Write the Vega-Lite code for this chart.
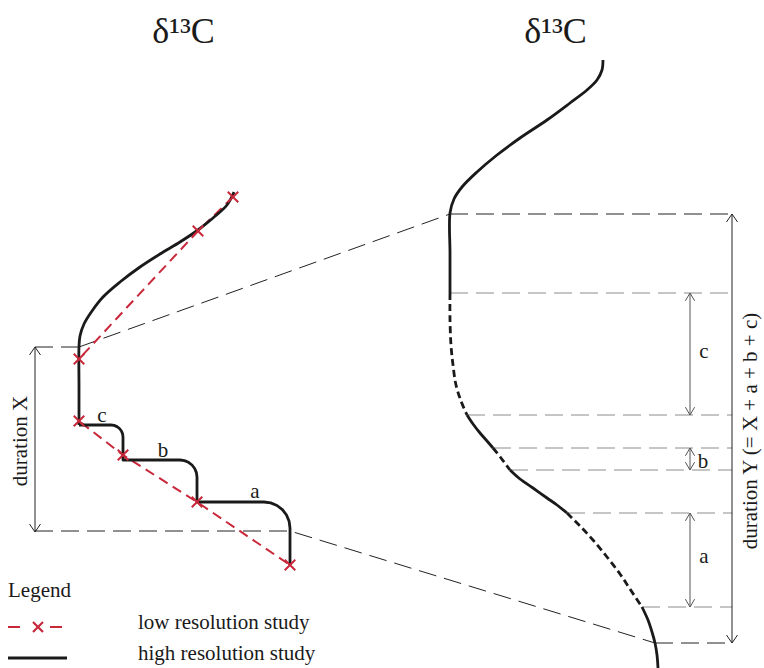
{
  "$schema": "https://vega.github.io/schema/vega-lite/v6.json",
  "width": 764,
  "height": 668,
  "padding": 0,
  "autosize": {"type": "none"},
  "background": "white",
  "config": {"view": {"stroke": null}},
  "datasets": {
    "hicurve": [
      {"id": "L", "x": 234, "y": 192}, {"id": "L", "x": 227, "y": 205}, {"id": "L", "x": 213, "y": 218}, {"id": "L", "x": 198, "y": 230},
      {"id": "L", "x": 180, "y": 242}, {"id": "L", "x": 160, "y": 254}, {"id": "L", "x": 140, "y": 267}, {"id": "L", "x": 120, "y": 282},
      {"id": "L", "x": 103, "y": 297}, {"id": "L", "x": 92, "y": 311}, {"id": "L", "x": 84, "y": 324}, {"id": "L", "x": 80, "y": 336},
      {"id": "L", "x": 79, "y": 347}, {"id": "L", "x": 79, "y": 386}, {"id": "L", "x": 79, "y": 425},
      {"id": "R1", "x": 603, "y": 60}, {"id": "R1", "x": 602, "y": 70}, {"id": "R1", "x": 597, "y": 80}, {"id": "R1", "x": 587, "y": 90},
      {"id": "R1", "x": 570, "y": 103}, {"id": "R1", "x": 547, "y": 120}, {"id": "R1", "x": 520, "y": 138}, {"id": "R1", "x": 497, "y": 155},
      {"id": "R1", "x": 477, "y": 172}, {"id": "R1", "x": 462, "y": 187}, {"id": "R1", "x": 454, "y": 199}, {"id": "R1", "x": 450, "y": 213},
      {"id": "R1", "x": 450, "y": 253}, {"id": "R1", "x": 450, "y": 293},
      {"id": "R3", "x": 467, "y": 415}, {"id": "R3", "x": 473, "y": 424}, {"id": "R3", "x": 480, "y": 433}, {"id": "R3", "x": 487, "y": 441}, {"id": "R3", "x": 493, "y": 448},
      {"id": "R5", "x": 510, "y": 470}, {"id": "R5", "x": 520, "y": 479}, {"id": "R5", "x": 533, "y": 488}, {"id": "R5", "x": 547, "y": 498}, {"id": "R5", "x": 557, "y": 505}, {"id": "R5", "x": 567, "y": 513},
      {"id": "R7", "x": 642, "y": 607}, {"id": "R7", "x": 648, "y": 620}, {"id": "R7", "x": 652, "y": 632}, {"id": "R7", "x": 655, "y": 643}, {"id": "R7", "x": 657, "y": 655}, {"id": "R7", "x": 658, "y": 668}
    ],
    "histep": [
      {"id": "S", "x": 79, "y": 425}, {"id": "S", "x": 111, "y": 425}, {"id": "S", "x": 114.1, "y": 425.4}, {"id": "S", "x": 117, "y": 426.6},
      {"id": "S", "x": 119.5, "y": 428.5}, {"id": "S", "x": 121.4, "y": 431}, {"id": "S", "x": 122.6, "y": 433.9}, {"id": "S", "x": 123, "y": 437},
      {"id": "S", "x": 123, "y": 460}, {"id": "S", "x": 180, "y": 460}, {"id": "S", "x": 184.4, "y": 460.6}, {"id": "S", "x": 188.5, "y": 462.3},
      {"id": "S", "x": 192, "y": 465}, {"id": "S", "x": 194.7, "y": 468.5}, {"id": "S", "x": 196.4, "y": 472.6}, {"id": "S", "x": 197, "y": 477},
      {"id": "S", "x": 197, "y": 502}, {"id": "S", "x": 264, "y": 502}, {"id": "S", "x": 270.7, "y": 502.9}, {"id": "S", "x": 277, "y": 505.5},
      {"id": "S", "x": 282.4, "y": 509.6}, {"id": "S", "x": 286.5, "y": 515}, {"id": "S", "x": 289.1, "y": 521.3}, {"id": "S", "x": 290, "y": 528},
      {"id": "S", "x": 290, "y": 565},
      {"id": "leg", "x": 8, "y": 658}, {"id": "leg", "x": 67, "y": 658}
    ],
    "hidash": [
      {"id": "R2", "x": 450, "y": 293}, {"id": "R2", "x": 450, "y": 320}, {"id": "R2", "x": 451, "y": 345}, {"id": "R2", "x": 453, "y": 365},
      {"id": "R2", "x": 456, "y": 385}, {"id": "R2", "x": 461, "y": 401}, {"id": "R2", "x": 467, "y": 415},
      {"id": "R4", "x": 493, "y": 448}, {"id": "R4", "x": 501, "y": 458}, {"id": "R4", "x": 510, "y": 470},
      {"id": "R6", "x": 567, "y": 513}, {"id": "R6", "x": 580, "y": 526}, {"id": "R6", "x": 593, "y": 540}, {"id": "R6", "x": 607, "y": 557},
      {"id": "R6", "x": 620, "y": 574}, {"id": "R6", "x": 630, "y": 589}, {"id": "R6", "x": 642, "y": 607}
    ],
    "low": [
      {"x": 233, "y": 197}, {"x": 198, "y": 231}, {"x": 79, "y": 359}, {"x": 79, "y": 421},
      {"x": 123, "y": 455}, {"x": 197, "y": 502}, {"x": 290, "y": 565}
    ],
    "legred": [
      {"id": "d1", "x": 8, "y": 627}, {"id": "d1", "x": 20, "y": 627},
      {"id": "d2", "x": 50, "y": 627}, {"id": "d2", "x": 62, "y": 627}
    ],
    "legcross": [{"x": 38, "y": 627}],
    "guide": [
      {"id": "G1", "x": 79, "y": 347}, {"id": "G1", "x": 450, "y": 214},
      {"id": "G2", "x": 35, "y": 347}, {"id": "G2", "x": 79, "y": 347},
      {"id": "G3", "x": 35, "y": 531}, {"id": "G3", "x": 290, "y": 531}, {"id": "G3", "x": 655, "y": 643},
      {"id": "G4", "x": 450, "y": 214}, {"id": "G4", "x": 732, "y": 214},
      {"id": "G5", "x": 655, "y": 643}, {"id": "G5", "x": 732, "y": 643}
    ],
    "gray": [
      {"id": "g1", "x": 450, "y": 293}, {"id": "g1", "x": 732, "y": 293},
      {"id": "g2", "x": 467, "y": 415}, {"id": "g2", "x": 732, "y": 415},
      {"id": "g3", "x": 493, "y": 448}, {"id": "g3", "x": 732, "y": 448},
      {"id": "g4", "x": 510, "y": 470}, {"id": "g4", "x": 732, "y": 470},
      {"id": "g5", "x": 567, "y": 513}, {"id": "g5", "x": 732, "y": 513},
      {"id": "g6", "x": 642, "y": 607}, {"id": "g6", "x": 732, "y": 607}
    ],
    "arrmain": [
      {"id": "X", "end": "top", "x": 35, "y": 347}, {"id": "X", "end": "bottom", "x": 35, "y": 532},
      {"id": "Y", "end": "top", "x": 732, "y": 214}, {"id": "Y", "end": "bottom", "x": 732, "y": 643}
    ],
    "arrsub": [
      {"id": "c", "end": "top", "x": 690, "y": 293}, {"id": "c", "end": "bottom", "x": 690, "y": 415},
      {"id": "b", "end": "top", "x": 690, "y": 448}, {"id": "b", "end": "bottom", "x": 690, "y": 470},
      {"id": "a", "end": "top", "x": 690, "y": 513}, {"id": "a", "end": "bottom", "x": 690, "y": 607}
    ],
    "titles": [
      {"x": 183.5, "y": 43, "t": "δ¹³C"},
      {"x": 555.5, "y": 43, "t": "δ¹³C"}
    ],
    "labels": [
      {"x": 102, "y": 422, "t": "c"}, {"x": 163, "y": 457, "t": "b"}, {"x": 255, "y": 498, "t": "a"},
      {"x": 704, "y": 358, "t": "c"}, {"x": 703, "y": 468, "t": "b"}, {"x": 704, "y": 563, "t": "a"}
    ],
    "legtext": [
      {"x": 8, "y": 597, "t": "Legend"},
      {"x": 138, "y": 629, "t": "low resolution study"},
      {"x": 138, "y": 660, "t": "high resolution study"}
    ],
    "vtext": [
      {"x": 27, "y": 441, "t": "duration X"},
      {"x": 757, "y": 431, "t": "duration Y (= X + a + b + c)"}
    ]
  },
  "encoding": {
    "x": {"field": "x", "type": "quantitative", "scale": {"domain": [0, 764], "nice": false, "zero": false}, "axis": null},
    "y": {"field": "y", "type": "quantitative", "scale": {"domain": [0, 668], "nice": false, "zero": false, "reverse": true}, "axis": null}
  },
  "layer": [
    {
      "data": {"name": "gray"},
      "mark": {"type": "line", "color": "#8c8c8c", "strokeWidth": 1, "strokeDash": [18, 8]},
      "encoding": {"detail": {"field": "id"}, "order": {"value": null}}
    },
    {
      "data": {"name": "guide"},
      "mark": {"type": "line", "color": "#222222", "strokeWidth": 1, "strokeDash": [18, 8]},
      "encoding": {"detail": {"field": "id"}, "order": {"value": null}}
    },
    {
      "data": {"name": "arrmain"},
      "mark": {"type": "line", "color": "#222222", "strokeWidth": 1},
      "encoding": {"detail": {"field": "id"}, "order": {"value": null}}
    },
    {
      "data": {"name": "arrmain"},
      "transform": [{"filter": "datum.end == 'top'"}],
      "mark": {"type": "point", "shape": "M-1,1.45L0,0L1,1.45", "filled": false, "size": 121, "strokeWidth": 1, "color": "#222222", "opacity": 1}
    },
    {
      "data": {"name": "arrmain"},
      "transform": [{"filter": "datum.end == 'bottom'"}],
      "mark": {"type": "point", "shape": "M-1,-1.45L0,0L1,-1.45", "filled": false, "size": 121, "strokeWidth": 1, "color": "#222222", "opacity": 1}
    },
    {
      "data": {"name": "arrsub"},
      "mark": {"type": "line", "color": "#555555", "strokeWidth": 1},
      "encoding": {"detail": {"field": "id"}, "order": {"value": null}}
    },
    {
      "data": {"name": "arrsub"},
      "transform": [{"filter": "datum.end == 'top'"}],
      "mark": {"type": "point", "shape": "M-1,1.7L0,0L1,1.7", "filled": false, "size": 85, "strokeWidth": 1, "color": "#555555", "opacity": 1}
    },
    {
      "data": {"name": "arrsub"},
      "transform": [{"filter": "datum.end == 'bottom'"}],
      "mark": {"type": "point", "shape": "M-1,-1.7L0,0L1,-1.7", "filled": false, "size": 85, "strokeWidth": 1, "color": "#555555", "opacity": 1}
    },
    {
      "data": {"name": "low"},
      "mark": {"type": "line", "color": "#c8283a", "strokeWidth": 2, "strokeDash": [10, 6]},
      "encoding": {"order": {"value": null}}
    },
    {
      "data": {"name": "hicurve"},
      "mark": {"type": "line", "color": "#1a1a1a", "strokeWidth": 2.8, "interpolate": "catmull-rom"},
      "encoding": {"detail": {"field": "id"}, "order": {"value": null}}
    },
    {
      "data": {"name": "histep"},
      "mark": {"type": "line", "color": "#1a1a1a", "strokeWidth": 2.8, "strokeJoin": "round"},
      "encoding": {"detail": {"field": "id"}, "order": {"value": null}}
    },
    {
      "data": {"name": "hidash"},
      "mark": {"type": "line", "color": "#1a1a1a", "strokeWidth": 2.8, "strokeDash": [7, 4], "interpolate": "catmull-rom"},
      "encoding": {"detail": {"field": "id"}, "order": {"value": null}}
    },
    {
      "data": {"name": "low"},
      "mark": {"type": "point", "shape": "M-1,-1L1,1M-1,1L1,-1", "filled": false, "size": 110, "strokeWidth": 2, "color": "#c8283a", "opacity": 1}
    },
    {
      "data": {"name": "legred"},
      "mark": {"type": "line", "color": "#c8283a", "strokeWidth": 2},
      "encoding": {"detail": {"field": "id"}, "order": {"value": null}}
    },
    {
      "data": {"name": "legcross"},
      "mark": {"type": "point", "shape": "M-1,-1L1,1M-1,1L1,-1", "filled": false, "size": 100, "strokeWidth": 2.2, "color": "#c8283a", "opacity": 1}
    },
    {
      "data": {"name": "titles"},
      "mark": {"type": "text", "font": "Liberation Serif", "fontSize": 36, "align": "center", "baseline": "alphabetic", "color": "#1a1a1a"},
      "encoding": {"text": {"field": "t"}}
    },
    {
      "data": {"name": "labels"},
      "mark": {"type": "text", "font": "Liberation Serif", "fontSize": 21, "align": "center", "baseline": "alphabetic", "color": "#1a1a1a"},
      "encoding": {"text": {"field": "t"}}
    },
    {
      "data": {"name": "legtext"},
      "mark": {"type": "text", "font": "Liberation Serif", "fontSize": 21, "align": "left", "baseline": "alphabetic", "color": "#1a1a1a"},
      "encoding": {"text": {"field": "t"}}
    },
    {
      "data": {"name": "vtext"},
      "mark": {"type": "text", "font": "Liberation Serif", "fontSize": 21, "align": "center", "baseline": "alphabetic", "angle": 270, "color": "#1a1a1a"},
      "encoding": {"text": {"field": "t"}}
    }
  ]
}
